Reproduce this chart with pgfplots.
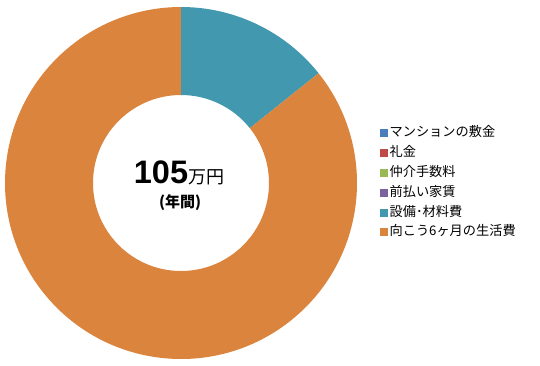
\documentclass[border=0pt]{standalone}
\usepackage{fontspec}
\setmainfont{Noto Sans CJK JP}
\newfontfamily\lat{Liberation Sans}
\usepackage{pgfplots}
\pgfplotsset{compat=1.18}
\usetikzlibrary{calc}
\definecolor{cblue}{HTML}{4A7EBB}
\definecolor{cred}{HTML}{BE4B48}
\definecolor{cgreen}{HTML}{98B954}
\definecolor{cpurple}{HTML}{7D60A0}
\definecolor{cteal}{HTML}{4198AF}
\definecolor{corange}{HTML}{DB843D}
% values (万円): 敷金, 礼金, 仲介手数料, 前払い家賃, 設備・材料費, 生活費
\def\vA{0}\def\vB{0}\def\vC{0}\def\vD{0}\def\vE{15}\def\vF{90}
\pgfmathsetmacro\total{\vA+\vB+\vC+\vD+\vE+\vF}
\pgfmathsetmacro\aE{90-360*((\vA+\vB+\vC+\vD)/\total)}
\pgfmathsetmacro\aF{\aE-360*(\vE/\total)}
\pgfmathsetmacro\aG{\aF-360*(\vF/\total)}
\begin{document}
\begin{tikzpicture}
\begin{axis}[name=ax,x=1pt,y=1pt,xmin=0,xmax=540,ymin=0,ymax=365,hide axis,clip=false,
  legend style={at={(axis cs:380,241)},anchor=north west,draw=none,fill=none,
    font=\fontsize{13.2}{14}\selectfont,row sep=5.3pt,inner sep=0pt,
    nodes={inner xsep=2pt,inner ysep=1pt}},
  legend cell align=left,
  legend image code/.code={\fill[#1] (0pt,-4.5pt) rectangle (7pt,2.5pt);}]
\coordinate (C) at (axis cs:181,182);
\fill[cteal] ($(C)+(\aE:176pt)$) arc[start angle=\aE,end angle=\aF,radius=176pt]
  -- ($(C)+(\aF:88pt)$) arc[start angle=\aF,end angle=\aE,radius=88pt] -- cycle;
\fill[corange] ($(C)+(\aF:176pt)$) arc[start angle=\aF,end angle=\aG,radius=176pt]
  -- ($(C)+(\aG:88pt)$) arc[start angle=\aG,end angle=\aF,radius=88pt] -- cycle;
\addlegendimage{cblue}\addlegendentry{マンションの敷金}
\addlegendimage{cred}\addlegendentry{礼金}
\addlegendimage{cgreen}\addlegendentry{仲介手数料}
\addlegendimage{cpurple}\addlegendentry{前払い家賃}
\addlegendimage{cteal}\addlegendentry{設備･材料費}
\addlegendimage{corange}\addlegendentry{向こう6ヶ月の生活費}
\node[anchor=base,inner sep=0pt] at (axis cs:179,182)
  {{\lat\bfseries\fontsize{32.5}{32}\selectfont 105}{\fontsize{18}{18}\selectfont 万円}};
\node[anchor=base,inner sep=0pt] at (axis cs:180,158)
  {\bfseries\fontsize{15}{15}\selectfont (年間)};
\end{axis}
\pgfresetboundingbox
\useasboundingbox (ax.south west) rectangle (ax.north east);
\end{tikzpicture}
\end{document}
